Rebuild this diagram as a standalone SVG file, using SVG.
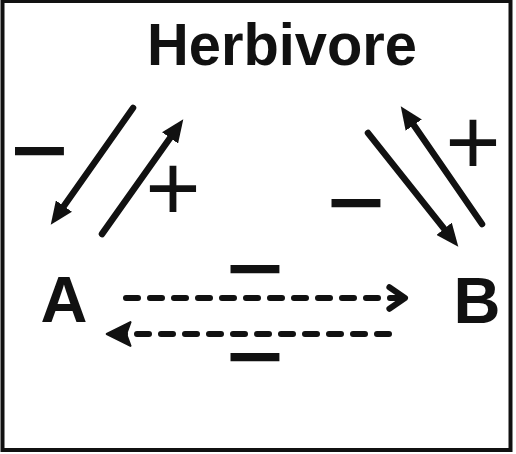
<svg xmlns="http://www.w3.org/2000/svg" width="516" height="454" viewBox="0 0 516 454">
<style>
.lbl{font-family:"Liberation Sans",Arial,sans-serif;font-weight:bold;fill:#111;text-anchor:middle}
.sign{font-family:"Liberation Sans",Arial,sans-serif;fill:#111;text-anchor:middle;font-size:95px}
.minus{font-family:"Liberation Sans",Arial,sans-serif;font-weight:bold;fill:#111;text-anchor:middle;font-size:75px}
.solid{stroke:#111;stroke-width:6.5;stroke-linecap:round;fill:none}
.dash{stroke:#111;stroke-width:6;stroke-linecap:round;stroke-dasharray:12 12;fill:none}
</style>
<defs>
<marker id="tri" markerUnits="userSpaceOnUse" markerWidth="24" markerHeight="20" viewBox="0 0 22 18" refX="8" refY="9" orient="auto">
<path d="M0,0 L21,9 L0,18 z" fill="#111"/>
</marker>
<marker id="chev" markerUnits="userSpaceOnUse" markerWidth="24" markerHeight="30" viewBox="-16 -12 20 24" refX="0" refY="0" orient="auto">
<path d="M-13,-9 L0,0 L-13,9" fill="none" stroke="#111" stroke-width="5" stroke-linecap="round" stroke-linejoin="round"/>
</marker>
<marker id="tri2" markerUnits="userSpaceOnUse" markerWidth="28" markerHeight="28" viewBox="0 -13 24 26" refX="6" refY="0" orient="auto">
<path d="M0,-11 L22,0 L0,11 L4,0 z" fill="#111" stroke="#111" stroke-width="2" stroke-linejoin="round"/>
</marker>
</defs>
<rect x="2.5" y="1" width="508" height="449" fill="#fff" stroke="#111" stroke-width="4"/>
<g id="herbivore"><text class="lbl" x="282" y="65" font-size="59" textLength="270" lengthAdjust="spacingAndGlyphs">Herbivore</text></g>
<g id="A"><text class="lbl" x="64" y="322" font-size="65">A</text></g>
<g id="B"><text class="lbl" x="477" y="323" font-size="65">B</text></g>
<g id="connectors">
<line class="solid" x1="133" y1="108" x2="58.9" y2="213.2" marker-end="url(#tri)"/>
<line class="solid" x1="102" y1="234" x2="175.1" y2="130.8" marker-end="url(#tri)"/>
<line class="solid" x1="368" y1="133" x2="449.5" y2="235.6" marker-end="url(#tri)"/>
<line class="solid" x1="482" y1="224" x2="408.8" y2="117.9" marker-end="url(#tri)"/>
<line class="dash" x1="126" y1="298" x2="405" y2="298" marker-end="url(#chev)"/>
<line class="dash" x1="389" y1="334" x2="124" y2="334" marker-end="url(#tri2)"/>
</g>
<g id="signs">
<text class="minus" x="39.5" y="176" textLength="57" lengthAdjust="spacingAndGlyphs">−</text>
<text class="sign" x="173" y="220">+</text>
<text class="sign" x="473" y="174">+</text>
<text class="minus" x="356" y="228" textLength="57" lengthAdjust="spacingAndGlyphs">−</text>
<text class="minus" x="255" y="294" textLength="57" lengthAdjust="spacingAndGlyphs">−</text>
<text class="minus" x="255" y="382" textLength="57" lengthAdjust="spacingAndGlyphs">−</text>
</g>
</svg>
